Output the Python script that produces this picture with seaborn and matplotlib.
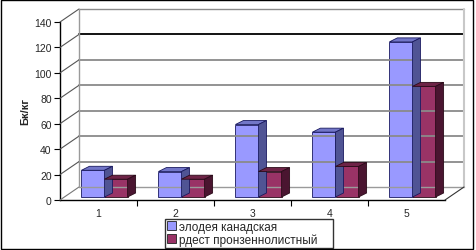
import matplotlib
matplotlib.use("Agg")
import matplotlib.pyplot as plt
import seaborn as sns
import pandas as pd
import numpy as np
from matplotlib.patches import Polygon, Rectangle
from matplotlib.lines import Line2D
from matplotlib.transforms import ScaledTranslation

categories = ["1", "2", "3", "4", "5"]
series_names = ["элодея канадская", "рдест пронзеннолистный"]
elodea = [21, 20, 57, 51, 122]
rdest = [14, 14, 20, 24, 87]
yticks = [0, 20, 40, 60, 80, 100, 120, 140]

df = pd.DataFrame({
    "cat": categories * 2,
    "val": elodea + rdest,
    "series": [series_names[0]] * 5 + [series_names[1]] * 5,
})

sns.set_theme(style="white")
plt.rcParams["font.family"] = ["Liberation Sans", "DejaVu Sans"]

W, H = 476, 251
fig = plt.figure(figsize=(W / 100, H / 100), dpi=100)
fig.patch.set_facecolor("white")

# front plane of the pseudo-3D box (pixels)
fx0, fx1, fy0, fy1 = 60, 445, 201, 23
ax = fig.add_axes([fx0 / W, 1 - fy0 / H, (fx1 - fx0) / W, (fy0 - fy1) / H])
ax.set_facecolor("none")

front_cols = ["#9999FF", "#993366"]
top_cols = ["#7276C8", "#6E2447"]
side_cols = ["#505494", "#4A1530"]
edge_cols = ["#1A1A60", "#2A0A18"]

sns.barplot(data=df, x="cat", y="val", hue="series", palette=front_cols,
            width=0.6, ax=ax, legend=False, saturation=1)
ax.set_ylim(0, 140)
ax.set_xlim(-0.5, 4.5)

DX, DY = 19, 13      # wall depth offset (pixels)
bdx, bdy = 8, 4      # bar depth offset (pixels)
SX, SY = 6, 3        # bars sit mid-depth: shift of their front face (pixels)

inv = fig.transFigure.inverted()
def px(pts):
    return inv.transform(np.asarray(pts, dtype=float))

def add_line(p0, p1, color, lw, z=0.5):
    pts = px([p0, p1])
    fig.add_artist(Line2D(pts[:, 0], pts[:, 1], transform=fig.transFigure,
                          color=color, lw=lw, zorder=z))

td = ax.transData
# back wall and side wall gridlines
for v in yticks:
    a = td.transform((-0.5, v))
    b = td.transform((4.5, v))
    col = "#000000" if v == 120 else "#8a8a8a"
    lw = 1.0 if v in (0, 140) else 1.3
    if v == 0:
        col = "#9a9a9a"
    add_line(a + [DX, DY], b + [DX, DY], col, lw)
    add_line(a, a + [DX, DY], "#555555" if v else "#777777", 0.8)
# wall verticals
a0 = td.transform((-0.5, 0)); a1 = td.transform((-0.5, 140))
add_line(a0 + [DX, DY], a1 + [DX, DY], "#9a9a9a", 1.0)
b0 = td.transform((4.5, 0)); b1 = td.transform((4.5, 140))
add_line(b0 + [DX, DY], b1 + [DX, DY], "#c8c8c8", 1.5)
add_line(b0, b0 + [DX, DY], "#333333", 0.8)

shift = ScaledTranslation(SX / 100, SY / 100, fig.dpi_scale_trans)
# pseudo-3D faces derived from the seaborn bars
for si, cont in enumerate(ax.containers):
    for p in cont.patches:
        p.set_edgecolor(edge_cols[si])
        p.set_linewidth(0.6)
        p.set_zorder(3)
        p.set_transform(td + shift)
        p.set_clip_on(False)
        x0, w, h = p.get_x(), p.get_width(), p.get_height()
        s = np.array([SX, SY])
        br = td.transform((x0 + w, 0)) + s
        tl = td.transform((x0, h)) + s; tr = td.transform((x0 + w, h)) + s
        off = np.array([bdx, bdy])
        top = px([tl, tr, tr + off, tl + off])
        side = px([br, tr, tr + off, br + off])
        z = 2 if si == 0 else 3.5
        for poly, c in ((top, top_cols[si]), (side, side_cols[si])):
            fig.add_artist(Polygon(poly, closed=True, transform=fig.transFigure,
                                   facecolor=c, edgecolor=edge_cols[si],
                                   lw=0.6, zorder=z))

for s_ in ["top", "right"]:
    ax.spines[s_].set_visible(False)
for s_ in ["left", "bottom"]:
    ax.spines[s_].set_color("black")
    ax.spines[s_].set_linewidth(1.0)

ax.set_yticks(yticks)
ax.set_yticklabels([str(v) for v in yticks], fontsize=7.5)
ax.tick_params(axis="y", direction="out", length=4, width=0.8, color="black",
               left=True, pad=2)
ax.set_xticks(range(5))
ax.set_xticklabels(categories, fontsize=7.5)
ax.set_xticks([0.5, 1.5, 2.5, 3.5], minor=True)
ax.tick_params(axis="x", which="major", length=0, pad=6)
ax.tick_params(axis="x", which="minor", direction="out", length=4, width=0.8,
               color="black", bottom=True)
ax.set_xlabel("")
ax.set_ylabel("Бк/кг", fontsize=8, fontweight="bold", labelpad=3)

# legend
handles = [Rectangle((0, 0), 1, 1, facecolor=front_cols[i], edgecolor="#222222", lw=0.6)
           for i in range(2)]
leg = fig.legend(handles, series_names, loc="upper left",
                 bbox_to_anchor=(165 / W, 1 - 248 / H, 168 / W, 28 / H),
                 mode="expand", fontsize=8.5, frameon=True, fancybox=False,
                 handlelength=0.75, handleheight=0.75, handletextpad=0.3,
                 borderpad=0.15, labelspacing=0.05, borderaxespad=0)
leg.get_frame().set_edgecolor("black")
leg.get_frame().set_linewidth(1.0)

# outer frame
fig.add_artist(Rectangle((0.5 / W, 1.5 / H), (W - 3.5) / W, (H - 2.5) / H,
                         transform=fig.transFigure, fill=False,
                         edgecolor="black", lw=1.0, zorder=10))

fig.savefig("out.png", dpi=100)
